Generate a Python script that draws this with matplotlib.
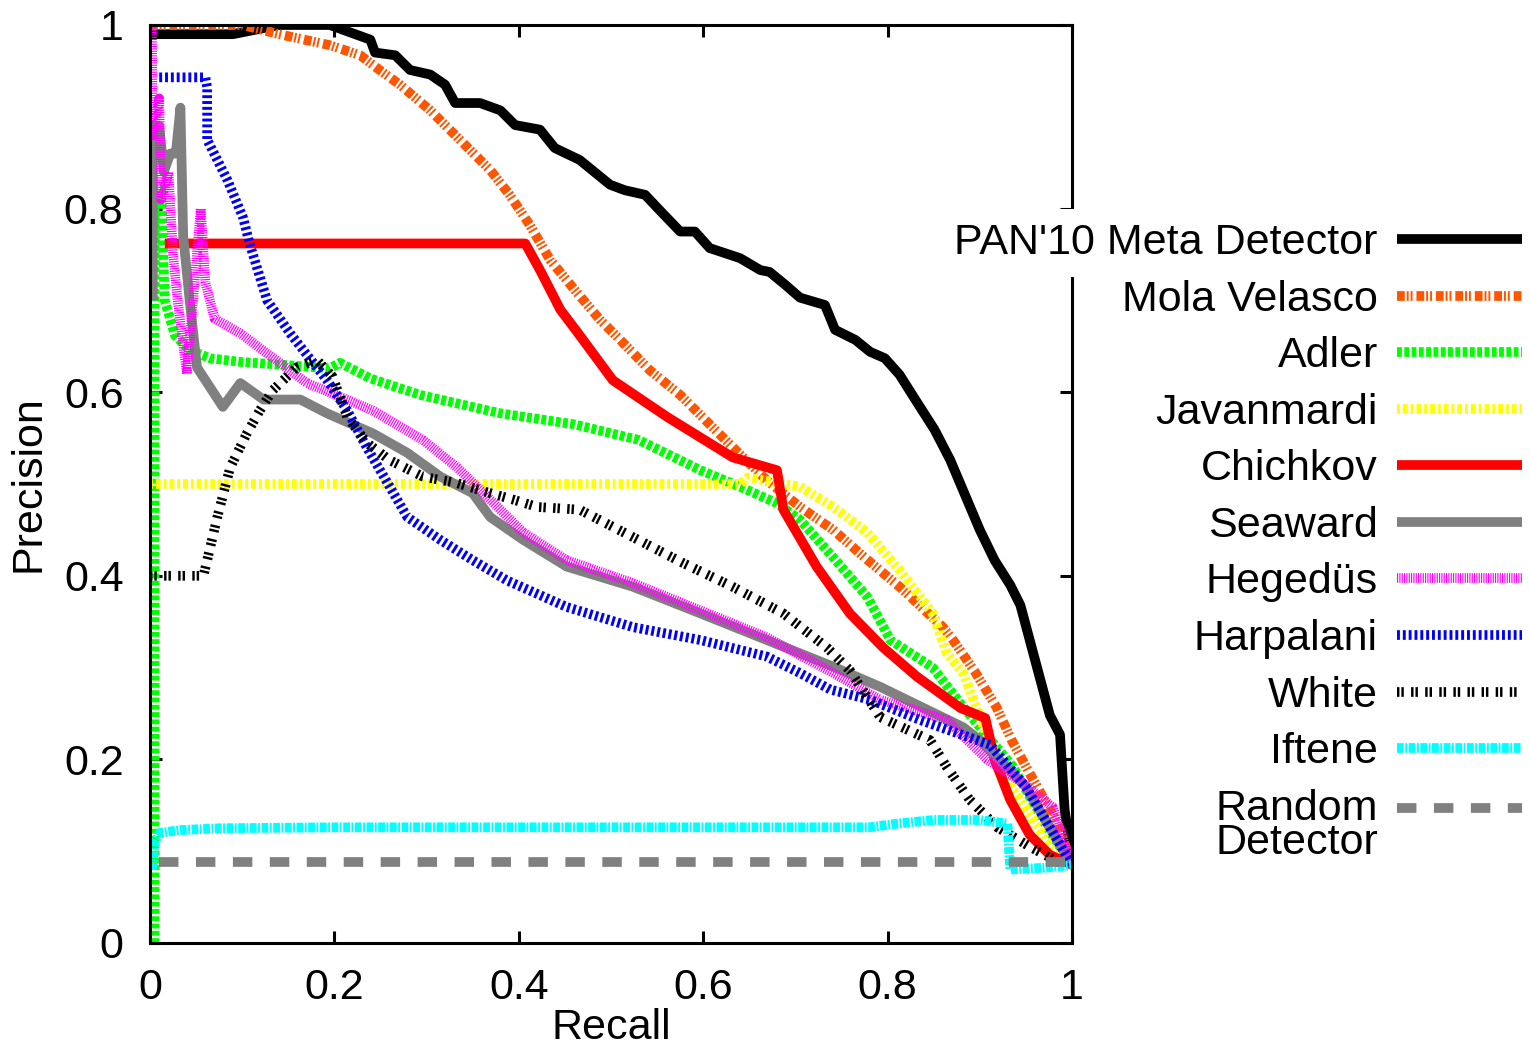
import numpy as np
import matplotlib
matplotlib.use("Agg")
import matplotlib.pyplot as plt
from matplotlib.legend_handler import HandlerLine2D

plt.rcParams['font.family'] = ['Liberation Sans', 'DejaVu Sans']

# precision / recall curves
meta_r = [0, 0.09, 0.14, 0.195, 0.239, 0.244, 0.266, 0.282, 0.304, 0.32, 0.331, 0.358, 0.38, 0.396,
          0.423, 0.439, 0.466, 0.499, 0.515, 0.537, 0.553, 0.575, 0.591, 0.607, 0.64, 0.662, 0.672,
          0.689, 0.705, 0.732, 0.743, 0.765, 0.781, 0.797, 0.813, 0.83, 0.851, 0.868, 0.884, 0.9,
          0.916, 0.933, 0.944, 0.96, 0.976, 0.987, 0.992, 1.0]
meta_p = [0.99, 0.99, 1.0, 1.0, 0.984, 0.97, 0.967, 0.951, 0.946, 0.935, 0.915, 0.915, 0.907, 0.891,
          0.886, 0.866, 0.853, 0.826, 0.82, 0.815, 0.798, 0.775, 0.775, 0.757, 0.746, 0.733, 0.731,
          0.717, 0.703, 0.695, 0.668, 0.657, 0.644, 0.637, 0.619, 0.592, 0.559, 0.526, 0.488, 0.45,
          0.417, 0.39, 0.368, 0.308, 0.248, 0.227, 0.145, 0.09]

mola_r = [0, 0.1, 0.14, 0.195, 0.228, 0.249, 0.271, 0.304, 0.336, 0.369, 0.39, 0.412, 0.434, 0.461,
          0.488, 0.51, 0.542, 0.575, 0.597, 0.632, 0.669, 0.705, 0.741, 0.775, 0.813, 0.86, 0.871,
          0.895, 0.918, 0.935, 0.954, 0.984, 1.0]
mola_p = [1.0, 1.0, 0.99, 0.978, 0.967, 0.951, 0.935, 0.907, 0.875, 0.842, 0.815, 0.782, 0.744, 0.711,
          0.679, 0.657, 0.624, 0.597, 0.575, 0.54, 0.504, 0.475, 0.45, 0.42, 0.388, 0.344, 0.33,
          0.295, 0.257, 0.22, 0.185, 0.131, 0.085]

adler_r = [0.005, 0.005, 0.012, 0.016, 0.027, 0.043, 0.065, 0.098, 0.141, 0.195, 0.206, 0.239, 0.293,
           0.38, 0.46, 0.53, 0.597, 0.64, 0.68, 0.705, 0.741, 0.778, 0.803, 0.849, 0.882, 0.936,
           0.973, 1.0]
adler_p = [0.0, 0.82, 0.82, 0.70, 0.662, 0.646, 0.637, 0.633, 0.63, 0.626, 0.632, 0.615, 0.597,
           0.577, 0.565, 0.548, 0.515, 0.497, 0.479, 0.461, 0.42, 0.377, 0.33, 0.3, 0.257, 0.192,
           0.126, 0.085]

javan_r = [0.0, 0.64, 0.648, 0.705, 0.741, 0.778, 0.813, 0.849, 0.864, 0.882, 0.911, 0.936, 0.973, 1.0]
javan_p = [0.5, 0.5, 0.507, 0.497, 0.475, 0.447, 0.406, 0.359, 0.316, 0.294, 0.218, 0.167, 0.112, 0.085]

chich_r = [0.016, 0.407, 0.423, 0.445, 0.466, 0.502, 0.561, 0.632, 0.68, 0.687, 0.723, 0.759, 0.795,
           0.832, 0.879, 0.906, 0.916, 0.933, 0.954, 0.976, 1.0]
chich_p = [0.762, 0.762, 0.733, 0.69, 0.662, 0.613, 0.573, 0.529, 0.515, 0.472, 0.41, 0.359, 0.322,
           0.29, 0.256, 0.245, 0.2, 0.156, 0.118, 0.096, 0.085]

seaw_r = [0.003, 0.003, 0.01, 0.015, 0.022, 0.028, 0.033, 0.036, 0.043, 0.051, 0.079, 0.098, 0.123,
          0.163, 0.192, 0.242, 0.279, 0.315, 0.35, 0.369, 0.405, 0.452, 0.524, 0.597, 0.669, 0.741,
          0.792, 0.882, 0.9, 0.95, 1.0]
seaw_p = [0.70, 0.89, 0.89, 0.84, 0.86, 0.86, 0.91, 0.77, 0.70, 0.627, 0.584, 0.61, 0.592,
          0.592, 0.577, 0.555, 0.534, 0.508, 0.49, 0.464, 0.439, 0.41, 0.388, 0.359, 0.33, 0.301,
          0.279, 0.235, 0.221, 0.17, 0.085]

heged_r = [0.002, 0.003, 0.01, 0.012, 0.02, 0.025, 0.03, 0.04, 0.055, 0.06, 0.07, 0.098, 0.17,
           0.242, 0.296, 0.333, 0.369, 0.405, 0.452, 0.524, 0.669, 0.741, 0.792, 0.864, 0.908,
           0.947, 0.979, 1.0]
heged_p = [1.0, 0.88, 0.92, 0.81, 0.84, 0.75, 0.70, 0.62, 0.80, 0.72, 0.68, 0.664, 0.61,
           0.58, 0.548, 0.518, 0.483, 0.447, 0.417, 0.392, 0.333, 0.294, 0.265, 0.243, 0.2,
           0.174, 0.148, 0.085]

harp_r = [0.01, 0.06, 0.062, 0.062, 0.084, 0.101, 0.108, 0.119, 0.127, 0.152, 0.177, 0.192, 0.214,
          0.235, 0.26, 0.279, 0.315, 0.35, 0.387, 0.452, 0.524, 0.597, 0.669, 0.705, 0.738, 0.781,
          0.835, 0.911, 0.95, 1.0]
harp_p = [0.943, 0.943, 0.932, 0.875, 0.831, 0.79, 0.762, 0.726, 0.70, 0.664, 0.632, 0.613, 0.58,
          0.54, 0.497, 0.464, 0.439, 0.417, 0.395, 0.366, 0.344, 0.33, 0.312, 0.294, 0.276, 0.265,
          0.243, 0.216, 0.17, 0.085]

white_r = [0.0, 0.058, 0.073, 0.087, 0.105, 0.119, 0.133, 0.159, 0.181, 0.198, 0.214, 0.235, 0.26,
           0.296, 0.333, 0.369, 0.394, 0.42, 0.466, 0.524, 0.578, 0.632, 0.687, 0.734, 0.759, 0.792,
           0.846, 0.864, 0.889, 0.919, 0.954, 0.995]
white_p = [0.4, 0.4, 0.464, 0.518, 0.555, 0.58, 0.602, 0.627, 0.635, 0.617, 0.573, 0.545, 0.526,
           0.508, 0.501, 0.49, 0.483, 0.475, 0.472, 0.442, 0.414, 0.388, 0.359, 0.322, 0.297, 0.246,
           0.221, 0.192, 0.156, 0.126, 0.105, 0.083]

ift_r = [0.002, 0.005, 0.011, 0.033, 0.076, 0.2, 0.78, 0.81, 0.85, 0.9, 0.93, 0.933, 0.97, 1.0]
ift_p = [0.08, 0.11, 0.12, 0.123, 0.125, 0.126, 0.126, 0.13, 0.134, 0.134, 0.13, 0.08, 0.082, 0.085]

rand_r = [0.01, 1.0]
rand_p = [0.088, 0.088]


# legend sample for a two-line label: put the line level with the first line of text
class FirstLineHandler(HandlerLine2D):
    def create_artists(self, legend, orig_handle, xdescent, ydescent, width, height,
                       fontsize, trans):
        arts = super().create_artists(legend, orig_handle, xdescent, ydescent, width,
                                      height, fontsize, trans)
        for a in arts:
            a.set_ydata(np.asarray(a.get_ydata()) + 0.42 * fontsize)
        return arts


fig = plt.figure(figsize=(15.3, 10.48), dpi=100)
ax = fig.add_axes([150/1530, 1 - 943/1048, 922/1530, 918/1048])

lw = 7
fs = 31
ax.plot(meta_r, meta_p, color='black', lw=lw, label="PAN'10 Meta Detector")
ax.plot(mola_r, mola_p, color='#ff5500', lw=lw, dashes=(0.8, 0.2, 0.2, 0.2, 0.2, 0.4),
        label="Mola Velasco")
ax.plot(adler_r, adler_p, color='#00ff00', lw=lw, dashes=(0.5, 0.25), label="Adler")
ax.plot(javan_r, javan_p, color='#ffff00', lw=lw, dashes=(0.3, 0.3, 0.5, 0.3), label="Javanmardi")
ax.plot(chich_r, chich_p, color='#ff0000', lw=lw, label="Chichkov")
ax.plot(seaw_r, seaw_p, color='#808080', lw=lw, label="Seaward")
ax.plot(heged_r, heged_p, color='#ff00ff', lw=lw, dashes=(0.12, 0.12), label="Hegedüs")
ax.plot(harp_r, harp_p, color='#0000ff', lw=lw, dashes=(0.3, 0.3), label="Harpalani")
ax.plot(white_r, white_p, color='black', lw=lw, dashes=(0.25, 0.2, 0.25, 0.75), label="White")
ax.plot(ift_r, ift_p, color='#00ffff', lw=lw, dashes=(0.7, 0.15, 0.2, 0.15), label="Iftene")
rand_line, = ax.plot(rand_r, rand_p, color='#808080', lw=lw, dashes=(2.0, 1.8),
                     label="Random\nDetector")

for line in ax.get_lines():
    line.set_solid_capstyle('butt')
    line.set_dash_capstyle('butt')

ax.set_xlim(0, 1)
ax.set_ylim(0, 1)
ticks = [0, 0.2, 0.4, 0.6, 0.8, 1]
ticklabels = ['0', '0.2', '0.4', '0.6', '0.8', '1']
ax.set_xticks(ticks)
ax.set_xticklabels(ticklabels)
ax.set_yticks(ticks)
ax.set_yticklabels(ticklabels)
ax.tick_params(direction='in', length=8.5, width=2.2, labelsize=fs, top=True, right=True)
ax.tick_params(axis='y', pad=19)
ax.tick_params(axis='x', pad=18)
for sp in ax.spines.values():
    sp.set_linewidth(2.2)

ax.set_xlabel("Recall", fontsize=fs, labelpad=0)
ax.set_ylabel("Precision", fontsize=fs, labelpad=11)

leg = ax.legend(loc='upper right', bbox_to_anchor=(1522/1530, 1 - 223/1048),
                bbox_transform=fig.transFigure, frameon=False, markerfirst=False,
                fontsize=fs, handlelength=2.9, handletextpad=0.45, labelspacing=0.385,
                borderpad=0, borderaxespad=0,
                handler_map={rand_line: FirstLineHandler()})
texts = leg.get_texts()
texts[0].set_bbox(dict(facecolor='white', edgecolor='none', pad=10))
texts[-1].set_linespacing(0.82)

fig.savefig("out.png", dpi=100)
